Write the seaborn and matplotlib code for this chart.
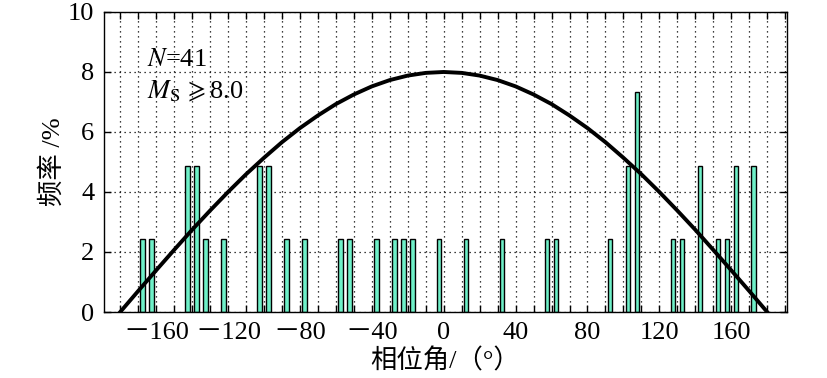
import matplotlib
matplotlib.use("Agg")
import matplotlib.pyplot as plt
import seaborn as sns
from matplotlib.ticker import MultipleLocator, FixedLocator

# 相位角分组中心 (°) 与频率 (%)，N=41
phase_centers = [-167.5, -162.5, -142.5, -137.5, -132.5, -122.5, -102.5, -97.5,
                 -87.5, -77.5, -57.5, -52.5, -37.5, -27.5, -22.5, -17.5, -2.5,
                 12.5, 32.5, 57.5, 62.5, 92.5, 102.5, 107.5, 127.5, 132.5,
                 142.5, 152.5, 157.5, 162.5, 172.5]
freq_percent = [2.44, 2.44, 4.88, 4.88, 2.44, 2.44, 4.88, 4.88,
                2.44, 2.44, 2.44, 2.44, 2.44, 2.44, 2.44, 2.44, 2.44,
                2.44, 2.44, 2.44, 2.44, 2.44, 4.88, 7.32, 2.44, 2.44,
                4.88, 2.44, 2.44, 4.88, 4.88]

# 拟合曲线
curve_phase = [-180, -170, -160, -150, -140, -130, -120, -110, -100, -90,
               -80, -70, -60, -50, -40, -30, -20, -10, 0,
               10, 20, 30, 40, 50, 60, 70, 80, 90,
               100, 110, 120, 130, 140, 150, 160, 170, 180]
curve_freq = [0.00, 0.70, 1.39, 2.07, 2.74, 3.38, 4.00, 4.59, 5.14, 5.66,
              6.13, 6.55, 6.93, 7.25, 7.52, 7.73, 7.88, 7.97, 8.00,
              7.97, 7.88, 7.73, 7.52, 7.25, 6.93, 6.55, 6.13, 5.66,
              5.14, 4.59, 4.00, 3.38, 2.74, 2.07, 1.39, 0.70, 0.00]

x_ticks = [-160, -120, -80, -40, 0, 40, 80, 120, 160]
x_ticklabels = ["\uff0d160", "\uff0d120", "\uff0d80", "\uff0d40", "0", "40", "80", "120", "160"]
y_ticks = [0, 2, 4, 6, 8, 10]

plt.rcParams['font.family'] = ['Liberation Serif', 'Noto Sans CJK SC']
plt.rcParams['mathtext.fontset'] = 'stix'
plt.rcParams['axes.unicode_minus'] = False

fig = plt.figure(figsize=(8.27, 3.78), dpi=100)
ax = fig.add_axes([0.1258, 0.1746, 0.8258, 0.7937])

sns.barplot(x=phase_centers, y=freq_percent, native_scale=True, width=0.5,
            color="#6FF0C8", saturation=1, edgecolor="black", linewidth=1,
            errorbar=None, ax=ax, zorder=2)
sns.lineplot(x=curve_phase, y=curve_freq, color="black", linewidth=2.8,
             ax=ax, zorder=3)

ax.set_xlim(-189, 191)
ax.set_ylim(0, 10)
ax.xaxis.set_major_locator(FixedLocator(x_ticks))
ax.set_xticklabels(x_ticklabels)
ax.xaxis.set_minor_locator(MultipleLocator(10))
ax.set_yticks(y_ticks)

ax.set_axisbelow(True)
ax.grid(True, which='both', axis='x', linestyle=(0, (1, 3)), color='black', linewidth=0.9)
ax.grid(True, which='major', axis='y', linestyle=(0, (1, 3)), color='black', linewidth=0.9)

ax.tick_params(which='both', direction='in', top=True, right=True, length=5,
               width=1, labelsize=19, pad=7)
for s in ax.spines.values():
    s.set_linewidth(1)
    s.set_zorder(4)

ax.set_xlabel("相位角/（°）", fontsize=19, labelpad=3)
ax.set_ylabel("频率 /%", fontsize=19, labelpad=2)

ax.text(-165, 8.2, r"$N$=41", fontsize=19, va='baseline', ha='left')
ax.text(-165, 7.13, r"$M_{\rm S}\,\geqslant$8.0", fontsize=19, va='baseline', ha='left')

fig.savefig("out.png", dpi=100)
